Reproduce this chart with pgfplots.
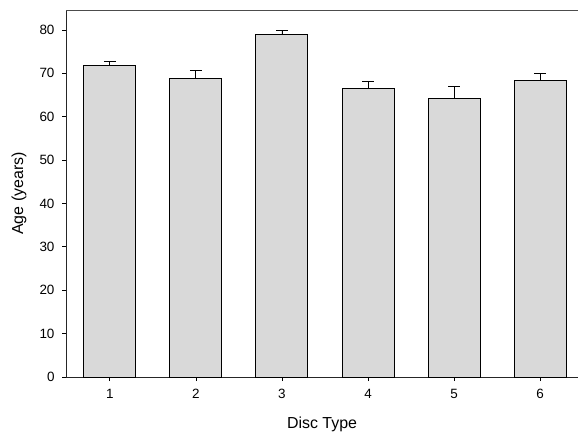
\documentclass[border=0pt]{standalone}
\usepackage{fontspec}
\setmainfont{Liberation Sans}
\usepackage{pgfplots}
\pgfplotsset{compat=1.18}
\begin{document}
\begin{tikzpicture}
\begin{axis}[
  scale only axis,
  width=512bp, height=367bp,
  xmin=0.49, xmax=6.44,
  ymin=0, ymax=84.6,
  axis x line=bottom, axis y line=left,
  axis line style={-, line width=0.9pt, black!85},
  tick align=outside,
  major tick length=4bp,
  tick style={line width=0.8pt, black},
  xtick={1,2,3,4,5,6},
  ytick={0,10,20,30,40,50,60,70,80},
  ticklabel style={font=\fontsize{13.5}{15}\selectfont},
  xticklabel style={yshift=-5bp},
  yticklabel style={xshift=-4bp},
  /pgf/number format/assume math mode=true,
  xlabel={Disc Type},
  ylabel={Age (years)},
  label style={font=\fontsize{16}{18}\selectfont},
  xlabel style={at={(axis description cs:0.5,0)}, anchor=north, yshift=-36bp},
  ylabel style={at={(axis description cs:0,0.5)}, anchor=south, yshift=36bp},
  clip=false,
]
\draw[line width=0.8pt, black!70] (rel axis cs:0,1) -- (rel axis cs:1,1);
\addplot[ybar, bar width=52bp, fill=black!15, draw=black, line width=1pt,
  error bars/.cd, y dir=plus, y explicit,
  error bar style={line width=0.9pt, black},
  error mark options={rotate=90, mark size=6bp, line width=0.9pt, black}]
  coordinates {
  (1,71.8) +- (0,0.9)
  (2,68.8) +- (0,1.9)
  (3,78.9) +- (0,0.9)
  (4,66.4) +- (0,1.8)
  (5,64.1) +- (0,2.8)
  (6,68.4) +- (0,1.6)
};
\end{axis}
\pgfresetboundingbox
\path[use as bounding box] (-66bp,-55bp) rectangle (512bp,377bp);
\end{tikzpicture}
\end{document}
